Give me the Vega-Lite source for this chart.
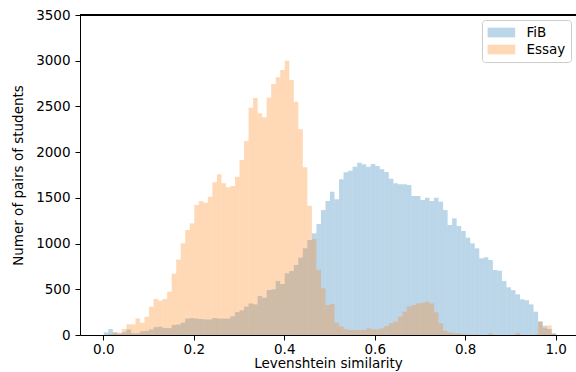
{
  "$schema": "https://vega.github.io/schema/vega-lite/v6.json",
  "width": 496,
  "height": 320,
  "autosize": {"type": "none"},
  "padding": {"left": 80, "top": 15, "right": 0, "bottom": 37},
  "background": "white",
  "config": {"view": {"stroke": null}, "font": "DejaVu Sans"},
  "data": {"values": [
    {"lo":0,"hi":0.01,"FiB":29,"Essay":0},
    {"lo":0.01,"hi":0.02,"FiB":66,"Essay":10},
    {"lo":0.02,"hi":0.03,"FiB":30,"Essay":25},
    {"lo":0.03,"hi":0.04,"FiB":15,"Essay":25},
    {"lo":0.04,"hi":0.05,"FiB":30,"Essay":65},
    {"lo":0.05,"hi":0.06,"FiB":60,"Essay":117},
    {"lo":0.06,"hi":0.07,"FiB":20,"Essay":117},
    {"lo":0.07,"hi":0.08,"FiB":20,"Essay":182},
    {"lo":0.08,"hi":0.09,"FiB":40,"Essay":135},
    {"lo":0.09,"hi":0.1,"FiB":45,"Essay":200},
    {"lo":0.1,"hi":0.11,"FiB":60,"Essay":310},
    {"lo":0.11,"hi":0.12,"FiB":85,"Essay":394},
    {"lo":0.12,"hi":0.13,"FiB":90,"Essay":376},
    {"lo":0.13,"hi":0.14,"FiB":75,"Essay":394},
    {"lo":0.14,"hi":0.15,"FiB":75,"Essay":474},
    {"lo":0.15,"hi":0.16,"FiB":110,"Essay":670},
    {"lo":0.16,"hi":0.17,"FiB":115,"Essay":825},
    {"lo":0.17,"hi":0.18,"FiB":135,"Essay":1003},
    {"lo":0.18,"hi":0.19,"FiB":180,"Essay":1148},
    {"lo":0.19,"hi":0.2,"FiB":185,"Essay":1221},
    {"lo":0.2,"hi":0.21,"FiB":180,"Essay":1422},
    {"lo":0.21,"hi":0.22,"FiB":175,"Essay":1466},
    {"lo":0.22,"hi":0.23,"FiB":170,"Essay":1447},
    {"lo":0.23,"hi":0.24,"FiB":170,"Essay":1513},
    {"lo":0.24,"hi":0.25,"FiB":185,"Essay":1670},
    {"lo":0.25,"hi":0.26,"FiB":180,"Essay":1757},
    {"lo":0.26,"hi":0.27,"FiB":180,"Essay":1659},
    {"lo":0.27,"hi":0.28,"FiB":180,"Essay":1615},
    {"lo":0.28,"hi":0.29,"FiB":205,"Essay":1630},
    {"lo":0.29,"hi":0.3,"FiB":250,"Essay":1732},
    {"lo":0.3,"hi":0.31,"FiB":270,"Essay":1914},
    {"lo":0.31,"hi":0.32,"FiB":310,"Essay":2122},
    {"lo":0.32,"hi":0.33,"FiB":345,"Essay":2486},
    {"lo":0.33,"hi":0.34,"FiB":335,"Essay":2593},
    {"lo":0.34,"hi":0.35,"FiB":426,"Essay":2425},
    {"lo":0.35,"hi":0.36,"FiB":408,"Essay":2381},
    {"lo":0.36,"hi":0.37,"FiB":492,"Essay":2596},
    {"lo":0.37,"hi":0.38,"FiB":500,"Essay":2745},
    {"lo":0.38,"hi":0.39,"FiB":590,"Essay":2818},
    {"lo":0.39,"hi":0.4,"FiB":558,"Essay":2898},
    {"lo":0.4,"hi":0.41,"FiB":675,"Essay":3000},
    {"lo":0.41,"hi":0.42,"FiB":700,"Essay":2789},
    {"lo":0.42,"hi":0.43,"FiB":766,"Essay":2552},
    {"lo":0.43,"hi":0.44,"FiB":846,"Essay":2250},
    {"lo":0.44,"hi":0.45,"FiB":948,"Essay":1834},
    {"lo":0.45,"hi":0.46,"FiB":1039,"Essay":1414},
    {"lo":0.46,"hi":0.47,"FiB":1112,"Essay":1050},
    {"lo":0.47,"hi":0.48,"FiB":1214,"Essay":711},
    {"lo":0.48,"hi":0.49,"FiB":1367,"Essay":510},
    {"lo":0.49,"hi":0.5,"FiB":1466,"Essay":328},
    {"lo":0.5,"hi":0.51,"FiB":1567,"Essay":340},
    {"lo":0.51,"hi":0.52,"FiB":1484,"Essay":135},
    {"lo":0.52,"hi":0.53,"FiB":1703,"Essay":95},
    {"lo":0.53,"hi":0.54,"FiB":1779,"Essay":62},
    {"lo":0.54,"hi":0.55,"FiB":1797,"Essay":55},
    {"lo":0.55,"hi":0.56,"FiB":1841,"Essay":55},
    {"lo":0.56,"hi":0.57,"FiB":1885,"Essay":55},
    {"lo":0.57,"hi":0.58,"FiB":1867,"Essay":55},
    {"lo":0.58,"hi":0.59,"FiB":1841,"Essay":73},
    {"lo":0.59,"hi":0.6,"FiB":1870,"Essay":62},
    {"lo":0.6,"hi":0.61,"FiB":1848,"Essay":62},
    {"lo":0.61,"hi":0.62,"FiB":1812,"Essay":73},
    {"lo":0.62,"hi":0.63,"FiB":1783,"Essay":98},
    {"lo":0.63,"hi":0.64,"FiB":1710,"Essay":128},
    {"lo":0.64,"hi":0.65,"FiB":1659,"Essay":146},
    {"lo":0.65,"hi":0.66,"FiB":1648,"Essay":200},
    {"lo":0.66,"hi":0.67,"FiB":1648,"Essay":255},
    {"lo":0.67,"hi":0.68,"FiB":1640,"Essay":310},
    {"lo":0.68,"hi":0.69,"FiB":1520,"Essay":328},
    {"lo":0.69,"hi":0.7,"FiB":1520,"Essay":346},
    {"lo":0.7,"hi":0.71,"FiB":1477,"Essay":353},
    {"lo":0.71,"hi":0.72,"FiB":1502,"Essay":365},
    {"lo":0.72,"hi":0.73,"FiB":1466,"Essay":346},
    {"lo":0.73,"hi":0.74,"FiB":1502,"Essay":248},
    {"lo":0.74,"hi":0.75,"FiB":1458,"Essay":128},
    {"lo":0.75,"hi":0.76,"FiB":1367,"Essay":47},
    {"lo":0.76,"hi":0.77,"FiB":1203,"Essay":29},
    {"lo":0.77,"hi":0.78,"FiB":1276,"Essay":20},
    {"lo":0.78,"hi":0.79,"FiB":1192,"Essay":18},
    {"lo":0.79,"hi":0.8,"FiB":1138,"Essay":11},
    {"lo":0.8,"hi":0.81,"FiB":1065,"Essay":5},
    {"lo":0.81,"hi":0.82,"FiB":1003,"Essay":3},
    {"lo":0.82,"hi":0.83,"FiB":948,"Essay":3},
    {"lo":0.83,"hi":0.84,"FiB":839,"Essay":0},
    {"lo":0.84,"hi":0.85,"FiB":850,"Essay":0},
    {"lo":0.85,"hi":0.86,"FiB":820,"Essay":18},
    {"lo":0.86,"hi":0.87,"FiB":711,"Essay":0},
    {"lo":0.87,"hi":0.88,"FiB":703,"Essay":0},
    {"lo":0.88,"hi":0.89,"FiB":590,"Essay":0},
    {"lo":0.89,"hi":0.9,"FiB":522,"Essay":0},
    {"lo":0.9,"hi":0.91,"FiB":490,"Essay":0},
    {"lo":0.91,"hi":0.92,"FiB":445,"Essay":22},
    {"lo":0.92,"hi":0.93,"FiB":390,"Essay":0},
    {"lo":0.93,"hi":0.94,"FiB":380,"Essay":0},
    {"lo":0.94,"hi":0.95,"FiB":335,"Essay":0},
    {"lo":0.95,"hi":0.96,"FiB":255,"Essay":5},
    {"lo":0.96,"hi":0.97,"FiB":148,"Essay":146},
    {"lo":0.97,"hi":0.98,"FiB":100,"Essay":75},
    {"lo":0.98,"hi":0.99,"FiB":65,"Essay":105},
    {"lo":0.99,"hi":1.0,"FiB":18,"Essay":15}
  ]},
  "layer": [
    {
      "transform": [{"fold": ["FiB", "Essay"], "as": ["series", "count"]}],
      "mark": {"type": "bar", "binSpacing": 0, "opacity": 0.3},
      "encoding": {
        "x": {
          "field": "lo", "type": "quantitative", "bin": {"binned": true},
          "scale": {"domain": [-0.0515, 1.0449], "nice": false, "zero": false},
          "axis": {
            "title": "Levenshtein similarity", "values": [0, 0.2, 0.4, 0.6, 0.8, 1], "format": ".1f",
            "grid": false, "domainColor": "#000", "tickColor": "#000", "tickSize": 5, "labelPadding": 2,
            "labelFontSize": 13.5, "labelColor": "#000", "labelFont": "DejaVu Sans", "labelFlush": false, "labelOverlap": false,
            "titleFontSize": 13.5, "titleFontWeight": "normal", "titleColor": "#000", "titleFont": "DejaVu Sans", "titlePadding": 1
          }
        },
        "x2": {"field": "hi"},
        "y": {
          "field": "count", "type": "quantitative", "stack": null,
          "scale": {"domain": [0, 3500], "nice": false},
          "axis": {
            "title": "Numer of pairs of students", "values": [0, 500, 1000, 1500, 2000, 2500, 3000, 3500], "format": "d",
            "grid": false, "domainColor": "#000", "tickColor": "#000", "tickSize": 5, "labelPadding": 5,
            "labelFontSize": 13.5, "labelColor": "#000", "labelFont": "DejaVu Sans", "labelFlush": false, "labelOverlap": false,
            "titleFontSize": 13.5, "titleFontWeight": "normal", "titleColor": "#000", "titleFont": "DejaVu Sans", "titlePadding": 10
          }
        },
        "color": {
          "field": "series", "type": "nominal",
          "scale": {"domain": ["FiB", "Essay"], "range": ["#1f77b4", "#ff7f0e"]},
          "legend": {
            "title": null, "orient": "top-right", "offset": 5, "padding": 5.5,
            "symbolType": "M-1,-0.7L3,-0.7L3,0.7L-1,0.7Z", "symbolSize": 190,
            "symbolOpacity": 0.3, "symbolStrokeWidth": 0,
            "labelFontSize": 13.5, "labelFont": "DejaVu Sans", "labelColor": "#000", "labelOffset": 25,
            "rowPadding": 3, "fillColor": "rgba(255,255,255,0.8)", "strokeColor": "#cccccc", "cornerRadius": 3
          }
        }
      }
    },
    {
      "mark": {"type": "rule", "color": "#000", "strokeWidth": 1},
      "encoding": {"y": {"datum": 3500}}
    }
  ]
}
